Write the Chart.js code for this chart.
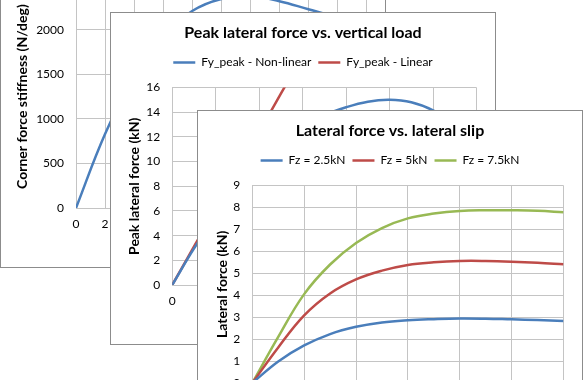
<!DOCTYPE html>
<html>
<head>
<meta charset="utf-8">
<script src="https://cdn.jsdelivr.net/npm/chart.js@4"></script>
<style>
  body { margin: 0; width: 583px; height: 380px; overflow: hidden; background: #fff; position: relative; }
  .panel { position: absolute; width: 386px; height: 333px; box-sizing: border-box; border: 1px solid #8c8c8c; background: #fff; }
  .panel canvas { display: block; }
</style>
</head>
<body>
<div class="panel" style="left:0;top:-65px"><canvas id="stiffChart" width="384" height="331"></canvas></div>
<div class="panel" style="left:110px;top:12px"><canvas id="peakChart" width="384" height="331"></canvas></div>
<div class="panel" style="left:197px;top:110px"><canvas id="slipChart" width="384" height="331"></canvas></div>
<script>
// corner force stiffness vs vertical load
const stiffLoad = [0, 2, 4, 6, 8, 10, 12, 14, 16, 18, 20];
const stiffness = [0, 830, 1480, 1930, 2210, 2345, 2375, 2320, 2230, 2140, 2040];

// peak lateral force vs vertical load
const peakLoad = [0, 2.5, 5, 7.5, 10, 12.5, 15, 17.5, 20, 22.5, 25, 27.5, 30, 32.5, 35];
const peakNonLinear = [0, 2.95, 5.53, 7.88, 9.9, 11.5, 12.8, 13.75, 14.4, 14.85, 15.0, 14.8, 14.15, 13.1, 11.7];
const peakLinear = [0, 3.1, 6.2, 9.3, 12.4, 15.5, 18.6, 21.7, 24.8, 27.9, 31.0, 34.1, 37.2, 40.3, 43.4];

// lateral force vs lateral slip
const slip = [0, 1, 2, 3, 4, 5, 6, 7, 8, 9, 10, 11, 12];
const fz25 = [0, 0.98, 1.71, 2.23, 2.56, 2.76, 2.86, 2.91, 2.94, 2.93, 2.9, 2.87, 2.83];
const fz5 = [0, 1.62, 3.08, 4.08, 4.72, 5.12, 5.38, 5.5, 5.56, 5.56, 5.53, 5.48, 5.41];
const fz75 = [0, 2.1, 4.05, 5.4, 6.38, 7.06, 7.5, 7.72, 7.84, 7.87, 7.87, 7.85, 7.78];

const blue = '#4a7ebb';
const red = '#be4b48';
const green = '#98b954';
const gridColor = '#c4c4c4';
const family = 'Lato';

function pts(xs, ys) {
  return xs.map((x, i) => ({ x: x, y: ys[i] }));
}

function series(label, xs, ys, color) {
  return {
    label: label,
    data: pts(xs, ys),
    borderColor: color,
    backgroundColor: color,
    borderWidth: 2.5,
    pointRadius: 0,
    pointStyle: 'line',
    tension: 0.4
  };
}

function makeChart(id, o) {
  return new Chart(document.getElementById(id), {
    type: 'line',
    data: { datasets: o.datasets },
    options: {
      responsive: false,
      animation: false,
      layout: { padding: 0 },
      plugins: {
        title: {
          display: true, text: o.title, color: '#000',
          font: { family: family, size: 16, weight: 'bold' },
          padding: { top: 10, bottom: o.titleGap }
        },
        legend: {
          display: o.legend,
          labels: {
            usePointStyle: true, pointStyleWidth: 22, padding: 7, color: '#000',
            font: { family: family, size: 12 }
          }
        },
        subtitle: {
          display: o.legend, text: '', weight: 500,
          font: { size: 1, lineHeight: 1 },
          padding: { top: 8, bottom: 0 }
        },
        tooltip: { enabled: false }
      },
      scales: {
        x: {
          type: 'linear', min: o.xMin, max: o.xMax,
          ticks: { stepSize: o.xStep, padding: 9, color: '#000', font: { family: family, size: 12 }, callback: v => String(v) },
          grid: { color: gridColor, drawTicks: false },
          border: { color: gridColor },
          title: { display: true, text: o.xTitle, color: '#000', font: { family: family, size: 14, weight: 'bold' } },
          afterFit: s => { s.height = 59; }
        },
        y: {
          type: 'linear', min: o.yMin, max: o.yMax,
          ticks: { stepSize: o.yStep, padding: 12, color: '#000', font: { family: family, size: 12 }, callback: v => String(v) },
          grid: { color: gridColor, drawTicks: false },
          border: { color: gridColor },
          title: {
            display: true, text: o.yTitle, color: '#000',
            font: { family: family, size: 14, weight: 'bold' },
            padding: { top: o.yTitlePad, bottom: 0 }
          },
          afterFit: s => { s.width = o.yWidth; }
        },
        // empty right margin so title and legend stay centred on the panel
        margin: {
          position: 'right',
          ticks: { display: false },
          grid: { display: false },
          border: { display: false },
          afterFit: s => { s.width = 18.5; }
        }
      }
    }
  });
}

makeChart('stiffChart', {
  title: 'Corner force stiffness vs. vertical load',
  titleGap: 20, legend: false,
  datasets: [series('Corner force stiffness', stiffLoad, stiffness, blue)],
  xMin: 0, xMax: 20, xStep: 2, xTitle: 'Vertical load (kN)',
  yMin: 0, yMax: 2500, yStep: 500, yTitle: 'Corner force stiffness (N/deg)',
  yWidth: 75, yTitlePad: 12.6
});

makeChart('peakChart', {
  title: 'Peak lateral force vs. vertical load',
  titleGap: 7.3, legend: true,
  datasets: [
    series('Fy_peak - Non-linear', peakLoad, peakNonLinear, blue),
    series('Fy_peak - Linear', peakLoad, peakLinear, red)
  ],
  xMin: 0, xMax: 35, xStep: 5, xTitle: 'Vertical load (kN)',
  yMin: 0, yMax: 16, yStep: 2, yTitle: 'Peak lateral force (kN)',
  yWidth: 61.2, yTitlePad: 15.1
});

makeChart('slipChart', {
  title: 'Lateral force vs. lateral slip',
  titleGap: 7.3, legend: true,
  datasets: [
    series('Fz = 2.5kN', slip, fz25, blue),
    series('Fz = 5kN', slip, fz5, red),
    series('Fz = 7.5kN', slip, fz75, green)
  ],
  xMin: 0, xMax: 12, xStep: 2, xTitle: 'Lateral slip (deg)',
  yMin: 0, yMax: 9, yStep: 1, yTitle: 'Lateral force (kN)',
  yWidth: 54.3, yTitlePad: 15.6
});
</script>
</body>
</html>
